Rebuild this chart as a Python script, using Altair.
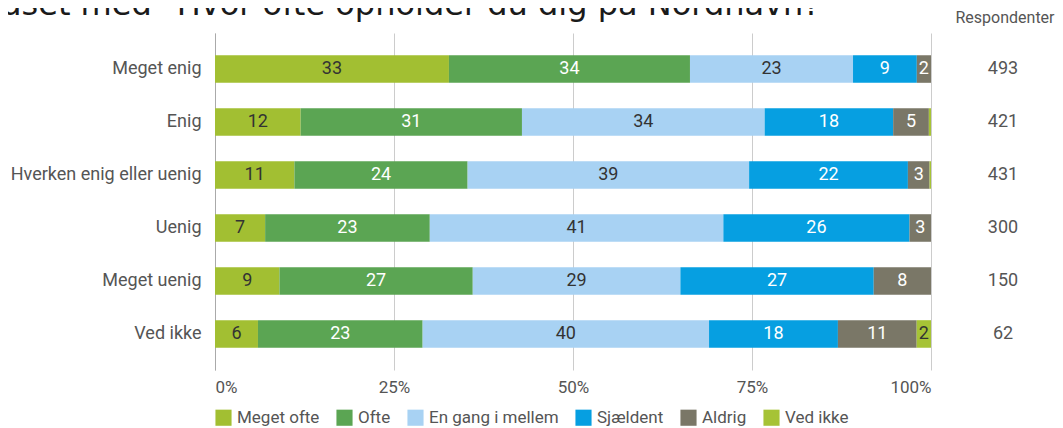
import altair as alt
import pandas as pd

categories = ["Meget enig", "Enig", "Hverken enig eller uenig", "Uenig", "Meget uenig", "Ved ikke"]
series = ["Meget ofte", "Ofte", "En gang i mellem", "Sjældent", "Aldrig", "Ved ikke"]
meget_ofte = [33, 12, 11, 7, 9, 6]
ofte = [34, 31, 24, 23, 27, 23]
en_gang = [23, 34, 39, 41, 29, 40]
sjaeldent = [9, 18, 22, 26, 27, 18]
aldrig = [2, 5, 3, 3, 8, 11]
ved_ikke = [0, 0.3, 0.2, 0, 0, 2]
respondenter = [493, 421, 431, 300, 150, 62]
colors = ["#a2bf32", "#5ba553", "#a8d2f3", "#069fe1", "#7a7767", "#a6c336"]
x_ticks = [0, 0.25, 0.5, 0.75, 1]
title_text = 'Enighed krydset med "Hvor ofte opholder du dig på Nordhavn?"'
resp_header = "Respondenter"

series_values = [meget_ofte, ofte, en_gang, sjaeldent, aldrig, ved_ikke]
rows = []
for i, c in enumerate(categories):
    for j, s in enumerate(series):
        rows.append({"kategori": c, "svar": s, "orden": j, "value": series_values[j][i]})
df = pd.DataFrame(rows)
resp_df = pd.DataFrame({"kategori": categories, "n": respondenter})

y_enc = alt.Y(
    "kategori:N",
    sort=categories,
    scale=alt.Scale(paddingInner=0.48, paddingOuter=0.42),
    axis=alt.Axis(
        title=None, ticks=False, domain=True, domainColor="#aaaaaa",
        labelFont="Roboto", labelFontSize=18, labelColor="#555555", labelPadding=14,
        labelLimit=400,
    ),
)

base = alt.Chart(df).transform_stack(
    stack="value", groupby=["kategori"], as_=["v0", "v1"], offset="normalize",
    sort=[alt.SortField("orden", "ascending")],
)

bars = base.mark_bar().encode(
    y=y_enc,
    x=alt.X(
        "v0:Q",
        scale=alt.Scale(domain=[0, 1], nice=False),
        axis=alt.Axis(
            title=None, format="%", values=x_ticks, ticks=False, domain=False,
            labelFlush=True, labelFont="Roboto", labelFontSize=17, labelColor="#555555",
            labelPadding=9, grid=True, gridColor="#cccccc",
        ),
    ),
    x2="v1:Q",
    color=alt.Color(
        "svar:N",
        scale=alt.Scale(domain=series, range=colors),
        sort=series,
        legend=alt.Legend(
            title=None, orient="none", legendX=0, legendY=376, direction="horizontal",
            columns=6, symbolType="square", symbolSize=260, symbolStrokeWidth=0,
            symbolOpacity=1, labelFont="Roboto", labelFontSize=17, labelColor="#555555",
            columnPadding=16, labelOffset=5,
        ),
    ),
)

labels = base.transform_calculate(
    mid="(datum.v0 + datum.v1) / 2",
    lab="datum.value >= 1 ? format(datum.value, 'd') : ''",
).mark_text(font="Roboto", fontSize=18).encode(
    y=alt.Y("kategori:N", sort=categories),
    x=alt.X("mid:Q"),
    text="lab:N",
    color=alt.condition(
        "indexof(['Ofte', 'Sjældent', 'Aldrig'], datum.svar) >= 0",
        alt.value("#ffffff"),
        alt.value("#333333"),
    ),
)

resp = alt.Chart(resp_df).mark_text(
    font="Roboto", fontSize=18, color="#555555", align="center"
).encode(
    y=alt.Y("kategori:N", sort=categories),
    x=alt.value(788),
    text="n:Q",
)

header = alt.Chart(pd.DataFrame({"t": [resp_header]})).mark_text(
    font="Roboto", fontSize=16, color="#555555", align="center"
).encode(x=alt.value(790), y=alt.value(-15), text="t:N")

title = alt.Chart(pd.DataFrame({"t": [title_text]})).mark_text(
    font="DejaVu Sans", fontSize=32, color="#1a1a1a", align="right", baseline="alphabetic"
).encode(x=alt.value(620), y=alt.value(-18), text="t:N")

chart = alt.layer(bars, labels, resp, header, title).properties(
    width=716,
    height=337,
    autosize=alt.AutoSizeParams(type="none"),
    padding={"left": 207, "top": 25, "right": 124, "bottom": 58},
).configure_view(stroke=None)

chart.save("out.html", embed_options={"renderer": "svg", "actions": False})
